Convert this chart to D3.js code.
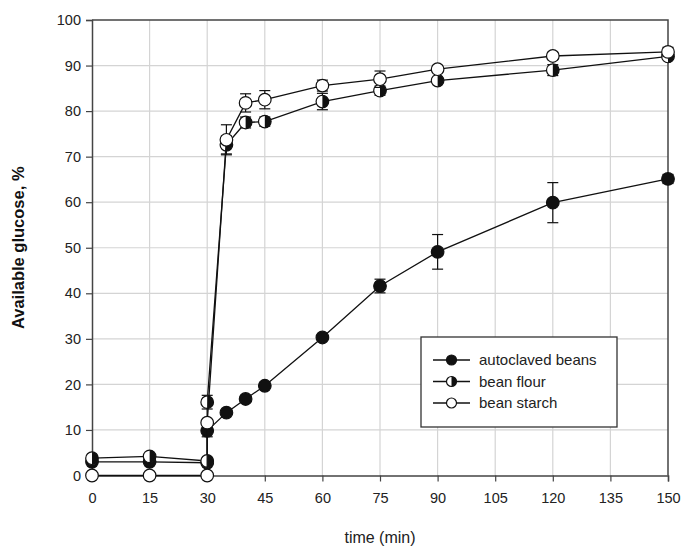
<!DOCTYPE html>
<html>
<head>
<meta charset="utf-8">
<script src="https://cdn.jsdelivr.net/npm/d3@7"></script>
<style>
    body { margin: 0; background: #fff; }
    text { font-family: Arial, "Liberation Sans", sans-serif; }
</style>
</head>
<body>
<div id="chart"></div>
<script>
// time points (30 min appears twice: end of gastric / start of intestinal step)
const times = [0, 15, 30, 30, 35, 40, 45, 60, 75, 90, 120, 150];

const seriesNames = ["autoclaved beans", "bean flour", "bean starch"];
const seriesMarkers = ["filled", "half", "open"];

const autoclavedMean = [3.0, 3.0, 2.8, 9.8, 13.8, 16.8, 19.7, 30.3, 41.6, 49.1, 59.9, 65.1];
const autoclavedErr  = [0, 0, 0, 1.3, 0, 0, 0, 0, 1.5, 3.8, 4.4, 1.0];
const flourMean      = [3.8, 4.2, 3.2, 16.1, 72.6, 77.5, 77.7, 82.1, 84.5, 86.7, 89.0, 92.0];
const flourErr       = [0.4, 0.4, 0.4, 1.5, 2.0, 1.2, 1.0, 1.8, 1.0, 0.6, 1.2, 0.6];
const starchMean     = [0, 0, 0, 11.6, 73.7, 81.8, 82.5, 85.6, 87.0, 89.2, 92.1, 93.0];
const starchErr      = [0, 0, 0, 0, 3.3, 2.0, 2.0, 1.2, 1.8, 0.6, 0.8, 1.0];

const xTicks = [0, 15, 30, 45, 60, 75, 90, 105, 120, 135, 150];
const yTicks = [0, 10, 20, 30, 40, 50, 60, 70, 80, 90, 100];

const xTitle = "time (min)";
const yTitle = "Available glucose, %";

const width = 686, height = 547;
const margin = { top: 20, right: 18, bottom: 71.5, left: 92 };
const plotW = width - margin.left - margin.right;
const plotH = height - margin.top - margin.bottom;

const svg = d3.select("#chart").append("svg")
    .attr("width", width)
    .attr("height", height);

const x = d3.scaleLinear().domain([0, 150]).range([0, plotW]);
const y = d3.scaleLinear().domain([0, 100]).range([plotH, 0]);

const g = svg.append("g").attr("transform", `translate(${margin.left},${margin.top})`);

// grid
g.append("g").selectAll("line.vx").data(xTicks.slice(1, -1)).join("line")
    .attr("x1", d => x(d)).attr("x2", d => x(d))
    .attr("y1", 0).attr("y2", plotH)
    .attr("stroke", "#d4d4d4").attr("stroke-width", 1.2);
g.append("g").selectAll("line.hy").data(yTicks.slice(1, -1)).join("line")
    .attr("y1", d => y(d)).attr("y2", d => y(d))
    .attr("x1", 0).attr("x2", plotW)
    .attr("stroke", "#d4d4d4").attr("stroke-width", 1.2);

// frame top & right
g.append("path")
    .attr("d", `M0,0H${plotW}V${plotH}`)
    .attr("fill", "none").attr("stroke", "#444").attr("stroke-width", 1.5);

// axes
let xAxis = g.append("g").attr("transform", `translate(0,${plotH})`)
    .call(d3.axisBottom(x).tickValues(xTicks).tickSize(6).tickPadding(11).tickFormat(d3.format("d")));
let yAxis = g.append("g")
    .call(d3.axisLeft(y).tickValues(yTicks).tickSize(6).tickPadding(5).tickFormat(d3.format("d")));

[xAxis, yAxis].forEach(function (a) {
    a.select(".domain").attr("stroke", "#444").attr("stroke-width", 1.5);
    a.selectAll(".tick line").attr("stroke", "#444").attr("stroke-width", 1.2);
    a.selectAll(".tick text").attr("font-size", 14.5).attr("fill", "#222")
        .attr("font-family", "Arial, 'Liberation Sans', sans-serif");
});

// axis titles
svg.append("text")
    .attr("x", margin.left + plotW / 2).attr("y", 543)
    .attr("text-anchor", "middle").attr("font-size", 16).attr("fill", "#222")
    .text(xTitle);
svg.append("text")
    .attr("transform", `translate(24,${margin.top + plotH / 2}) rotate(-90)`)
    .attr("text-anchor", "middle").attr("font-size", 16.5).attr("font-weight", "bold").attr("fill", "#111")
    .text(yTitle);

const allMeans = [autoclavedMean, flourMean, starchMean];
const allErrs = [autoclavedErr, flourErr, starchErr];
const r = 6.3;
const cap = 5.5;

function DrawMarker(sel, type, rad) {
    sel.append("circle").attr("r", rad)
        .attr("fill", type == "filled" ? "#111" : "#fff")
        .attr("stroke", "#111").attr("stroke-width", 1.2);
    if (type == "half") {
        sel.append("path")
            .attr("d", `M0,${-rad}A${rad},${rad} 0 0 1 0,${rad}Z`)
            .attr("fill", "#111");
    }
}

const line = d3.line().x(d => x(d.t)).y(d => y(d.v));

allMeans.forEach(function (means, i) {
    let pts = times.map((t, j) => ({ t: t, v: means[j], e: allErrs[i][j] }));
    let sg = g.append("g").attr("class", "series");

    // error bars
    let eb = sg.selectAll("g.err").data(pts.filter(p => p.e > 0)).join("g")
        .attr("stroke", "#111").attr("stroke-width", 1.2);
    eb.append("line")
        .attr("x1", d => x(d.t)).attr("x2", d => x(d.t))
        .attr("y1", d => y(d.v + d.e)).attr("y2", d => y(d.v - d.e));
    eb.append("line")
        .attr("x1", d => x(d.t) - cap).attr("x2", d => x(d.t) + cap)
        .attr("y1", d => y(d.v + d.e)).attr("y2", d => y(d.v + d.e));
    eb.append("line")
        .attr("x1", d => x(d.t) - cap).attr("x2", d => x(d.t) + cap)
        .attr("y1", d => y(d.v - d.e)).attr("y2", d => y(d.v - d.e));

    sg.append("path").datum(pts)
        .attr("d", line)
        .attr("fill", "none").attr("stroke", "#111").attr("stroke-width", 1.3);

    sg.selectAll("g.pt").data(pts).join("g")
        .attr("transform", d => `translate(${x(d.t)},${y(d.v)})`)
        .each(function () { DrawMarker(d3.select(this), seriesMarkers[i], r); });
});

// legend
const legend = svg.append("g").attr("transform", "translate(421,337)");
legend.append("rect")
    .attr("width", 196).attr("height", 90)
    .attr("fill", "#fff").attr("stroke", "#333").attr("stroke-width", 1.3);

seriesNames.forEach(function (name, i) {
    let row = legend.append("g").attr("transform", `translate(0,${23 + i * 21.5})`);
    row.append("line").attr("x1", 12).attr("x2", 49)
        .attr("stroke", "#111").attr("stroke-width", 1.3);
    let m = row.append("g").attr("transform", "translate(30.5,0)");
    DrawMarker(m, seriesMarkers[i], 5);
    row.append("text").attr("x", 58).attr("y", 5)
        .attr("font-size", 15).attr("fill", "#222")
        .text(name);
});
</script>
</body>
</html>
